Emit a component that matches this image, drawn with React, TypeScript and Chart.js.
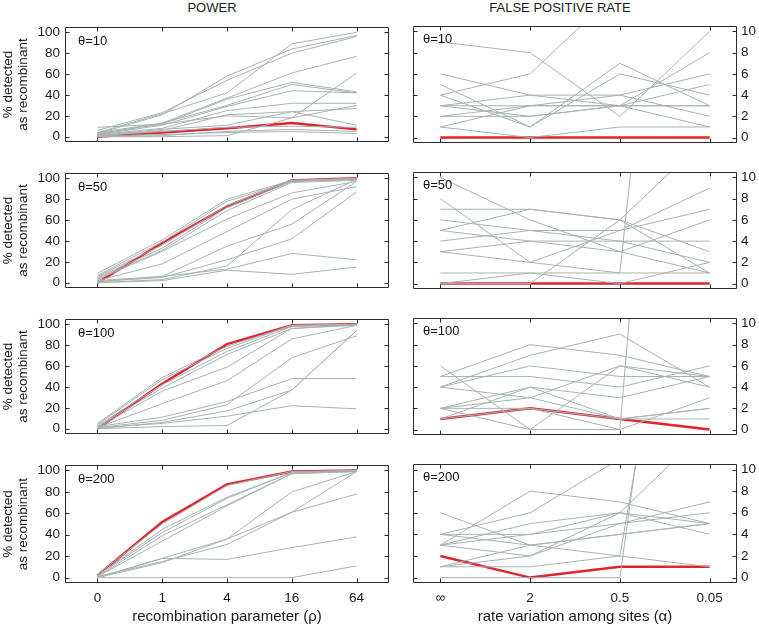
import React, { useEffect, useRef } from 'react';
import { Chart, registerables } from 'chart.js';
Chart.register(...registerables);

const FONT = '"Liberation Sans", Arial, Helvetica, sans-serif';
Chart.defaults.font.family = FONT;
Chart.defaults.color = '#1a1a1a';

const rhoLabels = ['0', '1', '4', '16', '64'];
const alphaLabels = ['∞', '2', '0.5', '0.05'];
const powerTicks = [0, 20, 40, 60, 80, 100];
const fprTicks = [0, 2, 4, 6, 8, 10];
const thetaLabels = ['θ=10', 'θ=50', 'θ=100', 'θ=200'];

// POWER (% detected), x = rho 0,1,4,16,64
const power10Red = [0, 4, 8, 13, 7];
const power10Gray = [
  [4, 22, 42, 89, 100],
  [3, 21, 58, 84, 97],
  [6, 23, 54, 80, 96],
  [2, 13, 37, 61, 77],
  [3, 12, 36, 52, 43],
  [4, 13, 30, 50, 42],
  [2, 11, 29, 44, 42],
  [2, 8, 25, 32, 32],
  [1, 6, 21, 24, 27],
  [0, 0, 1, 18, 61],
  [1, 7, 11, 24, 11],
  [9, 12, 20, 18, 30],
  [1, 5, 9, 10, 9],
  [0, 1, 5, 7, 5],
  [1, 2, 4, 5, 3],
];
const power50Red = [0, 38, 73, 98, 100];
const power50Gray = [
  [9, 41, 80, 98, 100],
  [7, 39, 78, 97, 100],
  [6, 36, 74, 98, 99],
  [5, 33, 72, 97, 99],
  [4, 31, 69, 96, 98],
  [3, 30, 61, 86, 97],
  [2, 18, 49, 80, 92],
  [1, 6, 35, 56, 97],
  [0, 3, 16, 70, 99],
  [1, 5, 22, 42, 87],
  [2, 6, 13, 28, 22],
  [0, 2, 12, 8, 15],
];
const power100Red = [0, 43, 81, 99, 100];
const power100Gray = [
  [5, 49, 79, 99, 100],
  [4, 47, 77, 99, 100],
  [3, 42, 74, 98, 100],
  [2, 39, 71, 96, 99],
  [1, 36, 59, 96, 100],
  [1, 24, 46, 86, 99],
  [2, 11, 26, 48, 48],
  [1, 8, 23, 68, 89],
  [0, 6, 17, 37, 94],
  [1, 5, 12, 22, 19],
  [0, 2, 3, 37, 94],
];
const power200Red = [2, 52, 87, 99, 100];
const power200Gray = [
  [3, 50, 86, 99, 100],
  [2, 45, 75, 98, 100],
  [2, 42, 74, 98, 100],
  [1, 39, 68, 97, 99],
  [1, 34, 67, 97, 99],
  [0, 18, 36, 80, 99],
  [1, 15, 31, 61, 99],
  [0, 14, 36, 61, 78],
  [0, 18, 17, 28, 38],
  [0, 0, 0, 0, 11],
];

// FALSE POSITIVE RATE (%), x = alpha ∞, 2, 0.5, 0.05
const fpr10Red = [0, 0, 0, 0];
const fpr10Gray = [
  [9, 8, 2, 10],
  [4, 6, 14, 20],
  [6, 4, 3, 3],
  [5, 1, 7, 3],
  [4, 1, 6, 4],
  [3, 3, 3, 8],
  [1, 3, 4, 6],
  [3, 2, 3, 5],
  [2, 3, 3, 3],
  [1, 0, 1, 1],
  [3, 4, 4, 2],
  [2, 2, 3, 1],
];
const fpr50Red = [0, 0, 0, 0];
const fpr50Gray = [
  [10, 6, 3, 1],
  [8, 2, 5, 9],
  [7, 7, 6, 1],
  [6, 5, 5, 7],
  [5, 7, 6, 3],
  [5, 4, 3, 6],
  [4, 5, 4, 2],
  [3, 4, 4, 4],
  [3, 2, 1, 1],
  [0, 0, 6, 14],
  [1, 1, 1, 80],
  [0, 1, 0, 2],
];
const fpr100Red = [1, 2, 1, 0];
const fpr100Gray = [
  [6, 0, 6, 5],
  [5, 8, 7, 5],
  [4, 7, 9, 4],
  [4, 6, 5, 5],
  [5, 5, 4, 6],
  [2, 4, 3, 5],
  [2, 3, 6, 4],
  [2, 0, 0, 3],
  [4, 3, 1, 2],
  [1, 4, 1, 1],
  [1, 2, 0, 100],
  [2, 2, 1, 2],
];
const fpr200Red = [2, 0, 1, 1];
const fpr200Gray = [
  [4, 6, 11, 20],
  [6, 3, 2, 1],
  [3, 8, 7, 5],
  [3, 5, 6, 4],
  [4, 4, 6, 5],
  [3, 4, 5, 6],
  [1, 2, 5, 7],
  [1, 3, 4, 5],
  [0, 0, 0, 60],
  [1, 1, 2, 50],
  [3, 2, 6, 14],
  [4, 3, 4, 5],
];

const powerGray = [power10Gray, power50Gray, power100Gray, power200Gray];
const powerRed = [power10Red, power50Red, power100Red, power200Red];
const fprGray = [fpr10Gray, fpr50Gray, fpr100Gray, fpr200Gray];
const fprRed = [fpr10Red, fpr50Red, fpr100Red, fpr200Red];

const GRAY = '#a6b3b2';
const RED = '#e0232c';
const ROW_TOP = [24, 170, 316, 462];

const framePlugin = {
  id: 'frame',
  afterDatasetsDraw(chart: any, _args: any, opts: any) {
    const { ctx, chartArea: a, scales } = chart;
    const xs = scales.x;
    const ys = scales.y;
    const L = Math.round(a.left) + 0.5;
    const R = Math.round(a.right) - 0.5;
    const T = Math.round(a.top) + 0.5;
    const B = Math.round(a.bottom) - 0.5;
    ctx.save();
    ctx.strokeStyle = '#2a2a2a';
    ctx.lineWidth = 1;
    ctx.beginPath();
    ctx.rect(L, T, R - L, B - T);
    const tl = 4;
    for (const v of opts.xValues) {
      const px = Math.round(xs.getPixelForValue(v)) + 0.5;
      ctx.moveTo(px, T); ctx.lineTo(px, T + tl);
      ctx.moveTo(px, B); ctx.lineTo(px, B - tl);
    }
    for (const v of opts.yValues) {
      const py = Math.round(ys.getPixelForValue(v)) + 0.5;
      ctx.moveTo(L, py); ctx.lineTo(L + tl, py);
      ctx.moveTo(R, py); ctx.lineTo(R - tl, py);
    }
    ctx.stroke();
    ctx.fillStyle = '#111';
    ctx.font = '13px ' + FONT;
    ctx.textAlign = 'left';
    ctx.textBaseline = 'middle';
    ctx.fillText(opts.label, a.left + opts.dx, a.top + opts.dy);
    ctx.restore();
  },
};

function Panel({ kind, row }: { kind: 'power' | 'fpr'; row: number }) {
  const ref = useRef<HTMLCanvasElement>(null);
  const isPower = kind === 'power';
  const last = row === 3;
  const width = isPower ? 395 : 352;
  const height = last ? 175 : 141;
  const left = isPower ? 0 : 407;
  const top = ROW_TOP[row] - 10;

  useEffect(() => {
    const labels = isPower ? rhoLabels : alphaLabels;
    const yTicks = isPower ? powerTicks : fprTicks;
    const gray = isPower ? powerGray[row] : fprGray[row];
    const red = isPower ? powerRed[row] : fprRed[row];
    const toPts = (arr: number[]) => arr.map((v, i) => ({ x: i, y: v }));
    const datasets: any[] = [
      ...gray.map((g) => ({
        data: toPts(g),
        borderColor: GRAY,
        borderWidth: 1,
        pointRadius: 0,
        tension: 0,
      })),
      { data: toPts(red), borderColor: RED, borderWidth: 2.5, pointRadius: 0, tension: 0 },
    ];
    const chart = new Chart(ref.current as HTMLCanvasElement, {
      type: 'line',
      data: { datasets },
      options: {
        animation: false,
        responsive: false,
        events: [],
        layout: {
          padding: isPower
            ? { left: 0, right: 6, top: 10, bottom: last ? 0 : 10 }
            : { left: 6, right: 0, top: 10, bottom: last ? 0 : 10 },
        },
        plugins: {
          legend: { display: false },
          tooltip: { enabled: false },
          title: { display: false },
          frame: {
            xValues: labels.map((_, i) => i),
            yValues: yTicks,
            label: thetaLabels[row],
            dx: isPower ? 13 : 10,
            dy: isPower ? 14 : 13,
          },
        } as any,
        scales: {
          x: {
            type: 'linear',
            min: isPower ? -0.5 : -0.305,
            max: isPower ? 4.5 : 3.305,
            display: last,
            grid: { display: false, drawTicks: false },
            border: { display: false },
            afterBuildTicks: (s: any) => {
              s.ticks = labels.map((_, i) => ({ value: i }));
            },
            afterFit: (s: any) => {
              s.height = last ? 44 : 0;
            },
            ticks: {
              padding: 7,
              autoSkip: false,
              maxRotation: 0,
              color: '#1a1a1a',
              font: { size: 13.5 },
              callback: (v: any) => labels[v] ?? '',
            },
            title: {
              display: last,
              text: isPower ? 'recombination parameter (ρ)' : 'rate variation among sites (α)',
              color: '#1a1a1a',
              font: { size: 15 },
              padding: { top: 0, bottom: 1 },
            },
          },
          y: {
            type: 'linear',
            position: isPower ? 'left' : 'right',
            min: isPower ? -5 : -0.5,
            max: isPower ? 105 : 10.5,
            grid: { display: false, drawTicks: false },
            border: { display: false },
            afterBuildTicks: (s: any) => {
              s.ticks = yTicks.map((v) => ({ value: v }));
            },
            afterFit: (s: any) => {
              s.width = isPower ? 65 : 22;
            },
            ticks: {
              padding: isPower ? 5 : 4,
              color: '#1a1a1a',
              font: { size: 13.5 },
              callback: (v: any) => String(v),
            },
            title: isPower
              ? {
                  display: true,
                  text: ['% detected', 'as recombinant'],
                  color: '#1a1a1a',
                  font: { size: 13.5, lineHeight: 1.1 },
                  padding: { top: 1, bottom: 0 },
                }
              : { display: false },
          },
        } as any,
      },
      plugins: [framePlugin],
    });
    return () => chart.destroy();
  }, []);

  return (
    <canvas
      ref={ref}
      width={width}
      height={height}
      style={{ position: 'absolute', left, top, width, height }}
    />
  );
}

export default function App() {
  const titleStyle: React.CSSProperties = {
    position: 'absolute',
    top: 0,
    width: 240,
    textAlign: 'center',
    fontFamily: FONT,
    fontSize: 13,
    lineHeight: '16px',
    color: '#1a1a1a',
  };
  return (
    <div style={{ position: 'absolute', left: 0, top: 0, width: 759, height: 627, background: '#fff', overflow: 'hidden' }}>
      <div style={{ ...titleStyle, left: 212 - 120 }}>POWER</div>
      <div style={{ ...titleStyle, left: 560 - 120 }}>FALSE POSITIVE RATE</div>
      {[0, 1, 2, 3].map((r) => (
        <React.Fragment key={r}>
          <Panel kind="power" row={r} />
          <Panel kind="fpr" row={r} />
        </React.Fragment>
      ))}
    </div>
  );
}
